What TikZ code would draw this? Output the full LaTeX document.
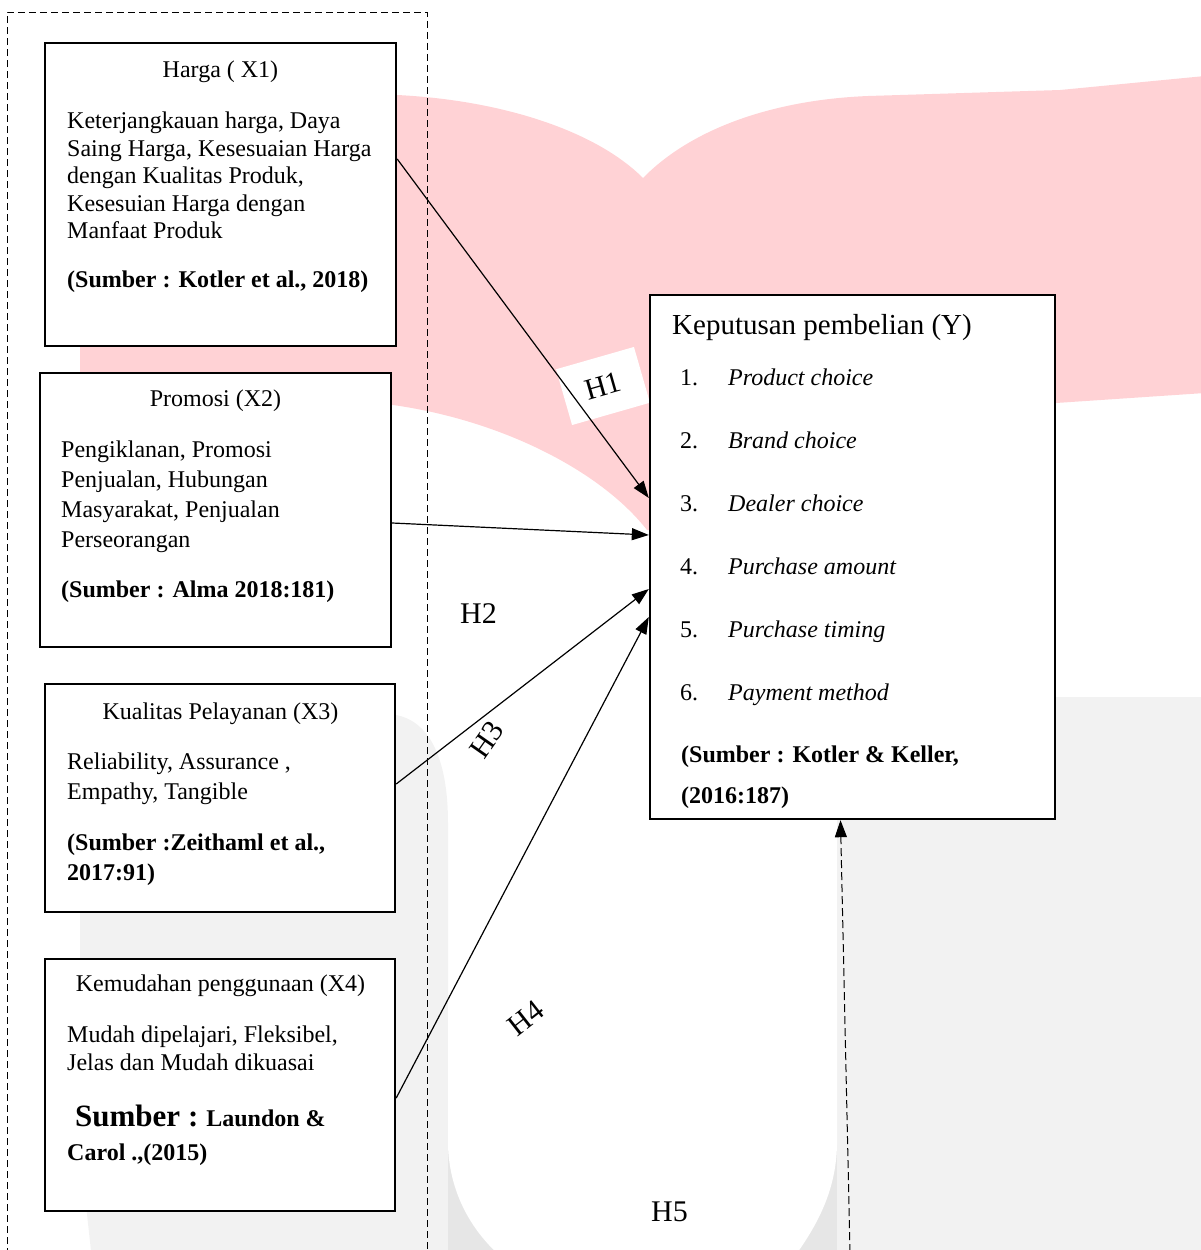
\documentclass[tikz,border=0pt]{standalone}
\usepackage{fontspec}
\setmainfont{Liberation Serif}
\usetikzlibrary{arrows.meta,calc}
\definecolor{pinkbg}{HTML}{FFD2D5}
\definecolor{graybg}{HTML}{F2F2F2}
\definecolor{graydk}{HTML}{E6E6E6}
\begin{document}
\begin{tikzpicture}[x=1pt,y=-1pt,
  box/.style={draw, line width=2.4pt, fill=white, inner sep=0pt},
  txt/.style={inner sep=0pt, anchor=base west, font=\fontsize{24}{28}\selectfont},
  ttl/.style={inner sep=0pt, anchor=base, font=\fontsize{24}{28}\selectfont},
  hyp/.style={inner sep=0pt, font=\fontsize{30}{34}\selectfont},
  link/.style={line width=1.2pt, -{Triangle[length=17pt,width=12pt]}},
  frame/.style={line width=0.9pt, dash pattern=on 7pt off 4pt},
]
\useasboundingbox (0,0) rectangle (1201,1250);
\clip (0,0) rectangle (1201,1250);
% watermark background
\fill[pinkbg] (80,92) -- (397,95) .. controls (500,100) and (595,130) .. (643,178)
  .. controls (690,130) and (770,100) .. (868,96) -- (1060,90) -- (1205,76) -- (1205,393)
  -- (1056,403) .. controls (900,412) and (700,440) .. (650,530) -- (647,530)
  .. controls (600,470) and (500,420) .. (393,405) -- (80,390) -- cycle;
\fill[graybg] (80,1150) -- (80,714) -- (385,714) .. controls (430,714) and (448,760) .. (448,823)
  -- (448,1260) -- (92,1260) -- cycle;
\fill[graybg] (837,1260) -- (837,780) .. controls (837,730) and (870,697) .. (920,697)
  -- (1205,697) -- (1205,1260) -- cycle;
\fill[graydk] (448,1100) rectangle (837,1260);
\fill[white] (448,1000) -- (448,1146) .. controls (450,1200) and (478,1238) .. (505,1260)
  -- (792,1260) .. controls (818,1225) and (836,1190) .. (837,1145) -- (837,1000) -- cycle;
% dashed frame
\draw[frame] (7,1255) -- (7,12) -- (427,12) -- (427,1255);
% hypothesis labels
\node[hyp, fill=white, rotate=16, minimum width=81pt, minimum height=58pt] (lh1) at (603,386) {H1};
\node[hyp, anchor=base west] (lh2) at (460,623) {H2};
\node[hyp, rotate=55] (lh3) at (487,740) {H3};
\node[hyp, rotate=38] (lh4) at (526,1018) {H4};
\node[hyp, anchor=base west] (lh5) at (651,1221) {H5};
% boxes
\node[box, minimum width=351pt, minimum height=303pt] (b1) at (220.5,194.5) {};
\node[box, minimum width=351pt, minimum height=274pt] (b2) at (215.5,510) {};
\node[box, minimum width=350pt, minimum height=228pt] (b3) at (220,798) {};
\node[box, minimum width=350pt, minimum height=252pt] (b4) at (220,1085) {};
\node[box, minimum width=405pt, minimum height=524pt] (y) at (852.5,557) {};
% box 1 text
\node[ttl] (b1t) at (220.5,77) {Harga ( X1)};
\foreach \yy/\tx [count=\i] in {128/{Keterjangkauan harga, Daya},156/{Saing Harga, Kesesuaian Harga},183/{dengan Kualitas Produk,},211/{Kesesuian Harga dengan},238/{Manfaat Produk}}
  \node[txt] (b1l\i) at (67,\yy) {\tx};
\node[txt, font=\fontsize{24}{28}\selectfont\bfseries] (b1s) at (67,287) {(Sumber : Kotler et al., 2018)};
% box 2 text
\node[ttl] (b2t) at (215.5,406) {Promosi (X2)};
\foreach \yy/\tx [count=\i] in {457/{Pengiklanan, Promosi},487/{Penjualan, Hubungan},517/{Masyarakat, Penjualan},547/{Perseorangan}}
  \node[txt] (b2l\i) at (61,\yy) {\tx};
\node[txt, font=\fontsize{24}{28}\selectfont\bfseries] (b2s) at (61,597) {(Sumber : Alma 2018:181)};
% box 3 text
\node[ttl] (b3t) at (220.5,719) {Kualitas Pelayanan (X3)};
\node[txt] (b3l1) at (67,769) {Reliability, Assurance ,};
\node[txt] (b3l2) at (67,799) {Empathy, Tangible};
\node[txt, font=\fontsize{24}{28}\selectfont\bfseries] (b3s1) at (67,850) {(Sumber :Zeithaml et al.,};
\node[txt, font=\fontsize{24}{28}\selectfont\bfseries] (b3s2) at (67,880) {2017:91)};
% box 4 text
\node[ttl] (b4t) at (220.5,991) {Kemudahan penggunaan (X4)};
\node[txt] (b4l1) at (67,1042) {Mudah dipelajari, Fleksibel,};
\node[txt] (b4l2) at (67,1070) {Jelas dan Mudah dikuasai};
\node[txt, font=\fontsize{24}{28}\selectfont\bfseries] (b4s1) at (75,1126) {{\fontsize{31}{34}\selectfont Sumber :} Laundon \&};
\node[txt, font=\fontsize{24}{28}\selectfont\bfseries] (b4s2) at (67,1160) {Carol .,(2015)};
% Y box text
\node[txt, font=\fontsize{29}{34}\selectfont] (yt) at (672,334) {Keputusan pembelian (Y)};
\foreach \yy/\tx [count=\i] in {385/{Product choice},448/{Brand choice},511/{Dealer choice},574/{Purchase amount},637/{Purchase timing},700/{Payment method}} {
  \node[txt] (yn\i) at (680,\yy) {\i.};
  \node[txt, font=\fontsize{24}{28}\selectfont\itshape] (yi\i) at (728,\yy) {\tx};
}
\node[txt, font=\fontsize{24}{28}\selectfont\bfseries] (ys1) at (681,762) {(Sumber : Kotler \& Keller,};
\node[txt, font=\fontsize{24}{28}\selectfont\bfseries] (ys2) at (681,803) {(2016:187)};
% connectors
\draw[link] ([yshift=35.5pt]b1.east) -- ([yshift=59pt]y.west);
\draw[link] ([yshift=-13pt]b2.east) -- ([yshift=22pt]y.west);
\draw[link] ([yshift=14pt]b3.east) -- ([yshift=-32pt]y.west);
\draw[link] ([yshift=-13pt]b4.east) -- ([yshift=-60pt]y.west);
\coordinate (h5s) at (850,1252);
\draw[link, line width=1pt, dash pattern=on 8pt off 4pt] (h5s) -- ([xshift=-12pt]y.south);
\end{tikzpicture}
\end{document}
